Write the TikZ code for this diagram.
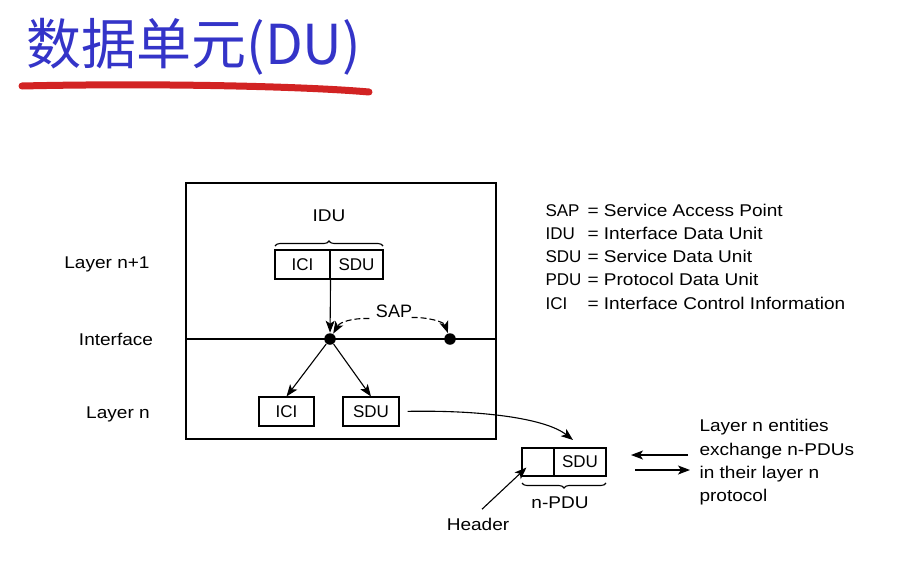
\documentclass[tikz,border=0pt]{standalone}
\usepackage{fontspec}
\setmainfont{Liberation Sans}[FakeStretch=1.12]
\newfontfamily\plain{Liberation Sans}
\newfontfamily\cjk{Noto Sans CJK SC}
\usetikzlibrary{arrows.meta,decorations.pathreplacing}
\definecolor{titleblue}{RGB}{52,52,200}
\definecolor{markred}{RGB}{210,35,35}

\begin{document}
\begin{tikzpicture}
  [x=1pt,y=-1pt,line width=1.1pt,font=\fontsize{17}{20}\selectfont,
   every node/.style={inner sep=0pt},
   cell/.style={draw,minimum height=29pt,font=\plain\fontsize{17}{20}\selectfont},
   dot/.style={circle,fill,minimum size=11.5pt},
   tip/.style={-{Stealth[length=12pt,width=9pt,inset=3pt]}},
   sapline/.style={tip,dash pattern=on 6pt off 3pt}]
  \useasboundingbox (0,0) rectangle (908,562);

  % title
  \node[anchor=west,text=titleblue,font=\cjk\fontsize{55}{60}\selectfont] (title) at (26,47) {数据单元(DU)};
  \draw[markred,line width=7pt,line cap=round] (22,86) .. controls (150,83) and (300,86) .. (369,92);

  % layers
  \draw (186,183) rectangle (496,439);
  \draw (186,339) -- (496,339);
  \node (lnp) at (107,264) {Layer n+1};
  \node (lif) at (116,339) {Interface};
  \node (ln) at (118,414) {Layer n};

  % IDU
  \node[cell,minimum width=55pt] (icia) at (302.5,264.5) {ICI};
  \node[cell,minimum width=53pt] (sdua) at (356.5,264.5) {SDU};
  \draw[decorate,decoration={brace,amplitude=5pt}] (275,246) -- (383,246);
  \node (idu) at (329,216) {IDU};

  % SAP
  \node[dot] (sapa) at (330,339) {};
  \node[dot] (sapb) at (450,339) {};
  \node[font=\plain\fontsize{18}{20}\selectfont] (sap) at (394,311.5) {SAP};
  \draw[tip] (icia.south east) -- (sapa);
  \draw[sapline] ([shift={(-6,7)}]sap.west) .. controls (352,318) and (340,322) .. (sapa);
  \draw[sapline] ([shift={(-1,6)}]sap.east) .. controls (428,317) and (444,322) .. (sapb);

  % layer n
  \node[cell,minimum width=55pt] (icib) at (286.5,411.5) {ICI};
  \node[cell,minimum width=56pt] (sdub) at (371,411.5) {SDU};
  \draw[tip] (sapa) -- (icib.north);
  \draw[tip] (sapa) -- (sdub.north);

  % n-PDU
  \node[cell,minimum width=32pt,minimum height=28pt] (hdr) at (538,462) {};
  \node[cell,minimum width=52pt,minimum height=28pt] (sduc) at (580,462) {SDU};
  \coordinate (pin) at (573,440);
  \draw[tip,shorten <=8pt] (sdub.east) .. controls (480,410) and (545,418) .. (pin);
  \draw[decorate,decoration={brace,amplitude=5pt,mirror}] (522,483) -- (606,483);
  \node (npdu) at (560,503) {n-PDU};
  \node (hdrl) at (478,524) {Header};
  \draw[tip] ([shift={(4,-8)}]hdrl.north) -- ([shift={(5,-9)}]hdr.south west);

  % exchange
  \coordinate (ea) at (688,455);
  \coordinate (eb) at (631,455);
  \coordinate (ec) at (635,470);
  \coordinate (ed) at (690,470);
  \draw[tip] (ea) -- (eb);
  \draw[tip] (ec) -- (ed);
  \foreach \txt [count=\i] in {Layer n entities,exchange n-PDUs,in their layer n,protocol}
    \node[anchor=base west] (ex\i) at (699,408.5+23.3*\i) {\txt};

  % legend
  \foreach \ab/\mean [count=\i] in {SAP/Service Access Point,IDU/Interface Data Unit,
      SDU/Service Data Unit,PDU/Protocol Data Unit,ICI/Interface Control Information}
  {
    \node[anchor=base west,font=\plain\fontsize{17}{20}\selectfont] (ab\i) at (545,192.7+23.3*\i) {\ab};
    \node[anchor=base west] (mean\i) at (587,192.7+23.3*\i) {= \mean};
  }

\end{tikzpicture}
\end{document}
